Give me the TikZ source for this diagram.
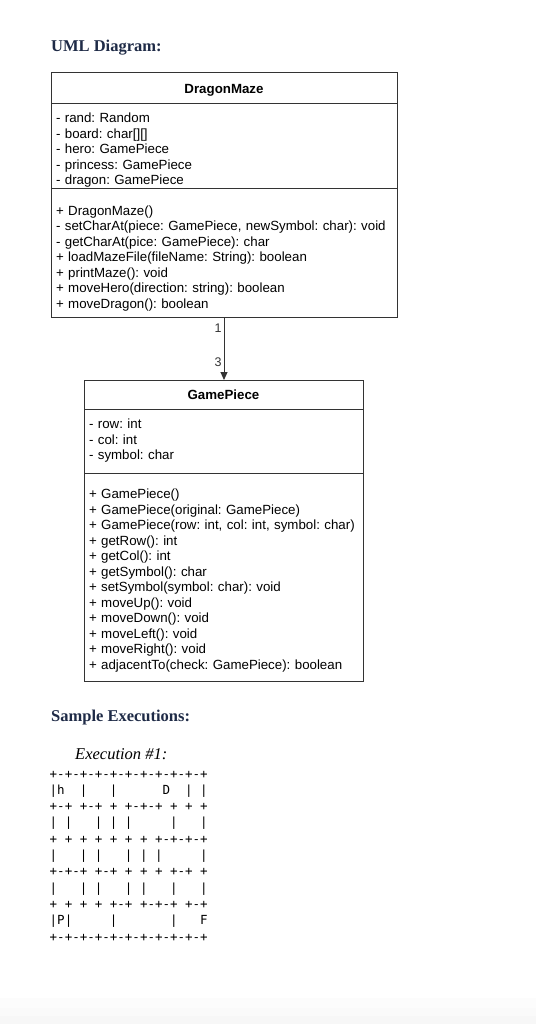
\documentclass[tikz,border=0pt]{standalone}
\usepackage{fontspec}
\setmainfont{Liberation Serif}
\newfontfamily\umlsans{Liberation Sans}
\newfontfamily\mazemono{DejaVu Sans Mono}
\usetikzlibrary{arrows.meta}
\definecolor{titlenavy}{HTML}{1F2B47}
\definecolor{boxline}{HTML}{333333}
\newcommand\umlstrut[1]{\rule{0pt}{#1}}
\frenchspacing
\begin{document}
\begin{tikzpicture}[x=1pt,y=-1pt,
  umlbox/.style={draw=boxline, line width=1pt, rectangle, anchor=north west, inner xsep=5pt, inner ysep=0pt, outer sep=0pt},
  umlhead/.style={umlbox, font=\umlsans\bfseries\fontsize{13.3}{15.5}\selectfont, align=center, text depth=0pt},
  umlbody/.style={umlbox, font=\frenchspacing\umlsans\fontsize{13.3}{15.5}\selectfont, align=left},
  heading/.style={anchor=base west, inner sep=0pt, text=titlenavy, font=\bfseries\fontsize{16.5}{19}\selectfont},
  mazerow/.style={anchor=base west, inner sep=0pt, font=\mazemono\fontsize{12.5}{15}\selectfont},
  mult/.style={font=\umlsans\fontsize{12.5}{14}\selectfont, anchor=east, inner sep=1pt, xshift=-1pt},
]
\useasboundingbox (0,0) rectangle (536,1024);
\fill[white] (0,0) rectangle (536,1024);
\fill[black!1] (0,998) rectangle (536,1008);
\fill[black!2] (0,1008) rectangle (536,1016);
\fill[black!3] (0,1016) rectangle (536,1024);

\node[heading] (uml) at (51,51.5) {UML Diagram:};

% DragonMaze class
\node[umlhead, minimum width=346pt, minimum height=31pt] (dmhead) at (51,73) {DragonMaze};
\node[umlbody, text width=336pt, minimum height=85pt] (dmattr) at (51,104) {%
\umlstrut{17.7pt}- rand: Random\\
- board: char{[}{]}{[}{]}\\
- hero: GamePiece\\
- princess: GamePiece\\
- dragon: GamePiece};
\node[umlbody, text width=336pt, minimum height=128pt] (dmmeth) at (51,189) {%
\umlstrut{20.7pt}+ DragonMaze()\\
- setCharAt(piece: GamePiece, newSymbol: char): void\\
- getCharAt(pice: GamePiece): char\\
+ loadMazeFile(fileName: String): boolean\\
+ printMaze(): void\\
+ moveHero(direction: string): boolean\\
+ moveDragon(): boolean};

% GamePiece class
\node[umlhead, minimum width=279pt, minimum height=29pt] (gphead) at (84,380) {GamePiece};
\node[umlbody, text width=269pt, minimum height=64pt] (gpattr) at (84,409) {%
- row: int\\
- col: int\\
- symbol: char};
\node[umlbody, text width=269pt, minimum height=208pt] (gpmeth) at (84,473) {%
\umlstrut{16.7pt}+ GamePiece()\\
+ GamePiece(original: GamePiece)\\
+ GamePiece(row: int, col: int, symbol: char)\\
+ getRow(): int\\
+ getCol(): int\\
+ getSymbol(): char\\
+ setSymbol(symbol: char): void\\
+ moveUp(): void\\
+ moveDown(): void\\
+ moveLeft(): void\\
+ moveRight(): void\\
+ adjacentTo(check: GamePiece): boolean};

% association
\coordinate (gptop) at (dmmeth.south |- gphead.north);
\draw[boxline, line width=1pt, -{Triangle[length=8pt,width=7pt]}] (dmmeth.south) -- (gptop)
  node[mult, pos=0.17] (m1) {1}
  node[mult, pos=0.71] (m3) {3};

% sample executions
\node[heading] (sample) at (51,721.5) {Sample Executions:};
\node[anchor=base west, inner sep=0pt, font=\itshape\fontsize{16.5}{19}\selectfont] (exec) at (75,759.5) {Execution \#1:};

\foreach \r/\s in {
  0/+-+-+-+-+-+-+-+-+-+-+,
  1/|h~~|~~~|~~~~~~D~~|~|,
  2/+-+~+-+~+~+-+-+~+~+~+,
  3/|~|~~~|~|~|~~~~~|~~~|,
  4/+~+~+~+~+~+~+~+-+-+-+,
  5/|~~~|~|~~~|~|~|~~~~~|,
  6/+-+-+~+-+~+~+~+~+-+~+,
  7/|~~~|~|~~~|~|~~~|~~~|,
  8/+~+~+~+~+-+~+-+-+~+-+,
  9/|P|~~~~~|~~~~~~~|~~~F,
  10/+-+-+-+-+-+-+-+-+-+-+}
  {\node[mazerow] (mz\r) at (49.5,{778+16.3*\r}) {\s};}
\end{tikzpicture}
\end{document}
